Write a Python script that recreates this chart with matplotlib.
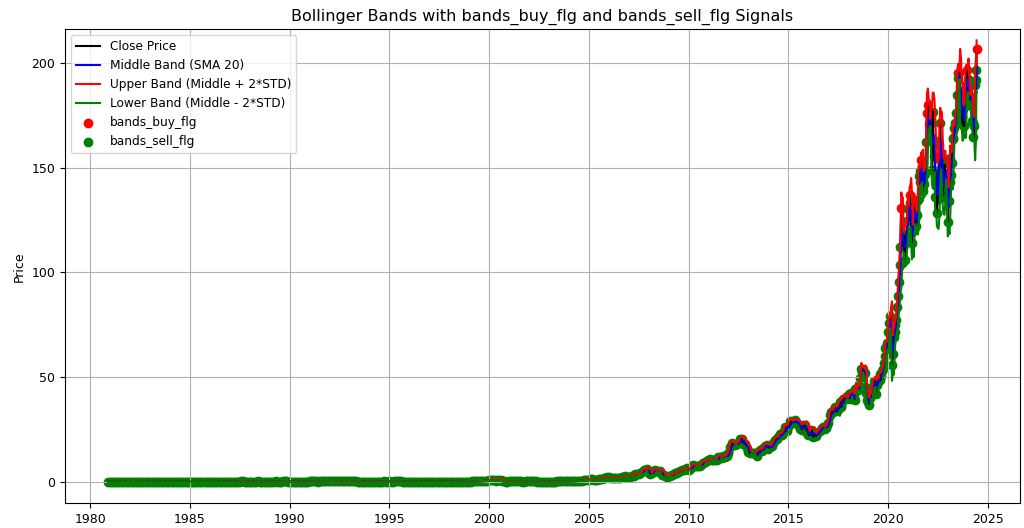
import matplotlib
matplotlib.use("Agg")
import matplotlib.pyplot as plt
import pandas as pd
import numpy as np

# monthly adjusted close, Dec 1980 - Dec 1999 (one row per year)
close_80s_90s = [
    0.10,
    0.10, 0.08, 0.08, 0.08, 0.09, 0.09, 0.08, 0.07, 0.06, 0.06, 0.06, 0.06,
    0.05, 0.05, 0.04, 0.05, 0.05, 0.04, 0.05, 0.06, 0.08, 0.10, 0.10, 0.09,
    0.12, 0.14, 0.15, 0.17, 0.18, 0.15, 0.12, 0.10, 0.08, 0.06, 0.06, 0.07,
    0.08, 0.09, 0.09, 0.10, 0.09, 0.10, 0.09, 0.10, 0.08, 0.08, 0.08, 0.09,
    0.09, 0.08, 0.07, 0.06, 0.06, 0.06, 0.06, 0.05, 0.05, 0.06, 0.07, 0.08,
    0.08, 0.06, 0.08, 0.08, 0.09, 0.10, 0.09, 0.10, 0.10, 0.11, 0.13, 0.12,
    0.16, 0.19, 0.21, 0.23, 0.23, 0.24, 0.27, 0.34, 0.34, 0.23, 0.24, 0.26,
    0.26, 0.26, 0.26, 0.26, 0.27, 0.29, 0.26, 0.25, 0.27, 0.26, 0.25, 0.26,
    0.22, 0.22, 0.22, 0.27, 0.28, 0.25, 0.25, 0.26, 0.30, 0.29, 0.28, 0.22,
    0.22, 0.22, 0.25, 0.25, 0.26, 0.27, 0.27, 0.24, 0.19, 0.18, 0.23, 0.27,
    0.34, 0.36, 0.42, 0.32, 0.28, 0.26, 0.30, 0.33, 0.32, 0.34, 0.32, 0.35,
    0.40, 0.42, 0.40, 0.39, 0.42, 0.32, 0.32, 0.30, 0.30, 0.34, 0.38, 0.40,
    0.37, 0.37, 0.35, 0.33, 0.36, 0.25, 0.18, 0.17, 0.17, 0.21, 0.21, 0.19,
    0.23, 0.23, 0.25, 0.20, 0.20, 0.18, 0.21, 0.25, 0.23, 0.29, 0.26, 0.27,
    0.28, 0.27, 0.25, 0.28, 0.30, 0.31, 0.30, 0.29, 0.25, 0.25, 0.27, 0.22,
    0.19, 0.17, 0.17, 0.17, 0.18, 0.14, 0.11, 0.14, 0.15, 0.16, 0.16, 0.14,
    0.11, 0.10, 0.12, 0.12, 0.12, 0.09, 0.14, 0.12, 0.14, 0.12, 0.12, 0.09,
    0.12, 0.16, 0.18, 0.20, 0.19, 0.21, 0.24, 0.20, 0.25, 0.24, 0.25, 0.27,
    0.27, 0.24, 0.29, 0.30, 0.31, 0.30, 0.37, 0.42, 0.42, 0.52, 0.58, 0.67,
]

# monthly adjusted close, 2000 - 2017
close_00s_10s = [
    0.78, 0.88, 1.04, 0.95, 0.65, 0.80, 0.78, 0.93, 0.40, 0.30, 0.25, 0.23,
    0.33, 0.28, 0.34, 0.39, 0.30, 0.36, 0.28, 0.29, 0.24, 0.27, 0.33, 0.34,
    0.38, 0.33, 0.36, 0.37, 0.36, 0.27, 0.23, 0.22, 0.22, 0.25, 0.23, 0.22,
    0.22, 0.23, 0.22, 0.22, 0.27, 0.29, 0.33, 0.35, 0.32, 0.36, 0.32, 0.33,
    0.34, 0.37, 0.42, 0.40, 0.43, 0.50, 0.50, 0.53, 0.60, 0.80, 1.02, 0.98,
    1.18, 1.38, 1.28, 1.11, 1.22, 1.13, 1.31, 1.44, 1.65, 1.77, 2.08, 2.21,
    2.32, 2.10, 1.93, 2.17, 1.83, 1.76, 2.09, 2.08, 2.36, 2.49, 2.81, 2.61,
    2.63, 2.59, 2.86, 3.06, 3.73, 3.75, 4.04, 4.26, 4.71, 5.83, 5.58, 6.08,
    4.15, 3.84, 4.40, 5.34, 5.78, 5.14, 4.88, 5.21, 3.49, 3.30, 2.84, 2.62,
    2.77, 2.74, 3.23, 3.86, 4.17, 4.37, 5.02, 5.16, 5.69, 5.79, 6.13, 6.48,
    5.90, 6.29, 7.22, 8.02, 7.89, 7.72, 7.90, 7.47, 8.71, 9.25, 9.56, 9.91,
    10.42, 10.84, 10.71, 10.70, 10.68, 10.31, 12.00, 11.78, 11.70, 12.44, 11.75, 12.44,
    14.02, 16.66, 18.41, 17.94, 17.74, 17.94, 18.76, 20.43, 20.49, 18.27, 17.96, 16.39,
    14.24, 13.83, 13.83, 13.83, 14.05, 12.38, 14.14, 15.22, 14.90, 16.31, 17.38, 17.54,
    15.91, 16.72, 17.06, 18.75, 20.12, 20.67, 21.27, 22.79, 22.42, 24.03, 26.46, 24.56,
    26.51, 29.06, 28.15, 28.32, 29.48, 28.38, 27.45, 25.51, 24.95, 27.04, 27.00, 23.82,
    22.38, 22.24, 25.07, 21.56, 22.97, 21.99, 23.97, 24.40, 26.00, 26.12, 25.42, 26.63,
    28.37, 32.02, 33.59, 33.58, 35.71, 33.67, 34.76, 38.34, 36.03, 39.51, 40.17, 39.56,
]

# twice a month (1st and 15th), Jan 2018 - Jun 2024, one row per year
close_recent = [
    40.2, 41.8, 39.8, 41.1, 42.3, 42.4, 39.8, 41.4, 39.2, 44.3, 44.4, 44.8,
    44.0, 45.4, 45.2, 49.5, 54.1, 52.7, 53.9, 51.6, 52.0, 45.5, 42.4, 39.3,
    38.1, 36.9, 40.2, 41.1, 41.8, 44.9, 45.8, 48.2, 48.4, 46.0, 42.2, 46.5,
    47.7, 49.0, 51.4, 48.6, 50.4, 52.8, 54.0, 56.7, 60.0, 64.1, 64.5, 66.4,
    71.6, 75.9, 75.4, 79.2, 66.6, 56.0, 61.0, 69.3, 71.6, 75.0, 77.5, 83.6,
    88.9, 95.3, 103.6, 112.0, 130.8, 112.6, 112.9, 117.7, 106.1, 116.3, 116.1, 124.7,
    130.3, 124.8, 137.0, 133.0, 119.1, 114.3, 120.0, 132.1, 129.1, 125.2, 122.4, 127.3,
    134.5, 145.8, 143.2, 148.4, 153.9, 146.3, 139.0, 142.2, 147.1, 147.3, 162.3, 176.1,
    179.8, 171.0, 172.7, 170.7, 163.1, 148.8, 176.8, 163.3, 155.8, 135.8, 147.1, 128.5,
    135.1, 148.4, 160.6, 171.1, 155.3, 150.6, 136.5, 136.7, 151.5, 148.2, 146.3, 134.9,
    124.3, 134.0, 143.4, 154.4, 146.5, 152.1, 163.9, 164.2, 168.7, 171.1, 176.2, 184.9,
    192.8, 195.1, 195.3, 176.4, 186.7, 174.0, 170.2, 177.8, 169.7, 186.9, 188.8, 196.4,
    192.1, 182.3, 184.0, 183.5, 180.4, 172.3, 171.1, 164.7, 170.0, 189.3, 191.9,
]
# last two trading days shown
last_dates = ["2024-06-07", "2024-06-11"]
last_close = [196.5, 206.7]

buy_dates = ["2020-09-01", "2021-02-01", "2021-09-01", "2021-12-15", "2022-01-01",
             "2023-07-15", "2023-08-01", "2023-12-15", "2024-06-11"]

dates = (list(pd.date_range("1980-12-01", "2017-12-01", freq="MS"))
         + list(pd.date_range("2018-01-01", "2024-06-01", freq="SMS"))
         + list(pd.to_datetime(last_dates)))
df = pd.DataFrame({"Close": close_80s_90s + close_00s_10s + close_recent + last_close},
                  index=pd.DatetimeIndex(dates))

df["Middle"] = df["Close"].rolling(3, min_periods=1).mean()
std = df["Close"].rolling(3, min_periods=1).std(ddof=0).fillna(0)
df["Upper"] = df["Middle"] + 2 * std
df["Lower"] = df["Middle"] - 2 * std
df["bands_buy_flg"] = df.index.isin(pd.to_datetime(buy_dates))
df["bands_sell_flg"] = ~df["bands_buy_flg"]

plt.rcParams["font.size"] = 9
fig = plt.figure(figsize=(10.24, 5.28), dpi=100)
ax = fig.add_axes([0.0635, 0.0473, 0.9326, 0.8971])

ax.plot(df.index, df["Close"], color='black', label="Close Price")
ax.plot(df.index, df["Middle"], color='blue', label="Middle Band (SMA 20)")
ax.plot(df.index, df["Upper"], color='red', label="Upper Band (Middle + 2*STD)")
ax.plot(df.index, df["Lower"], color='green', label="Lower Band (Middle - 2*STD)")

buy = df[df["bands_buy_flg"]]
sell = df[df["bands_sell_flg"]]
ax.scatter(buy.index, buy["Close"], color='red', s=36, label="bands_buy_flg")
ax.scatter(sell.index, sell["Close"], color='green', s=36, label="bands_sell_flg")

ax.set_title("Bollinger Bands with bands_buy_flg and bands_sell_flg Signals", fontsize=11.5)
ax.set_ylabel("Price")
ax.set_ylim(-10, 216)
ax.grid(True)
ax.legend(loc="upper left", fontsize=8.7)

fig.savefig("out.png", dpi=100)
